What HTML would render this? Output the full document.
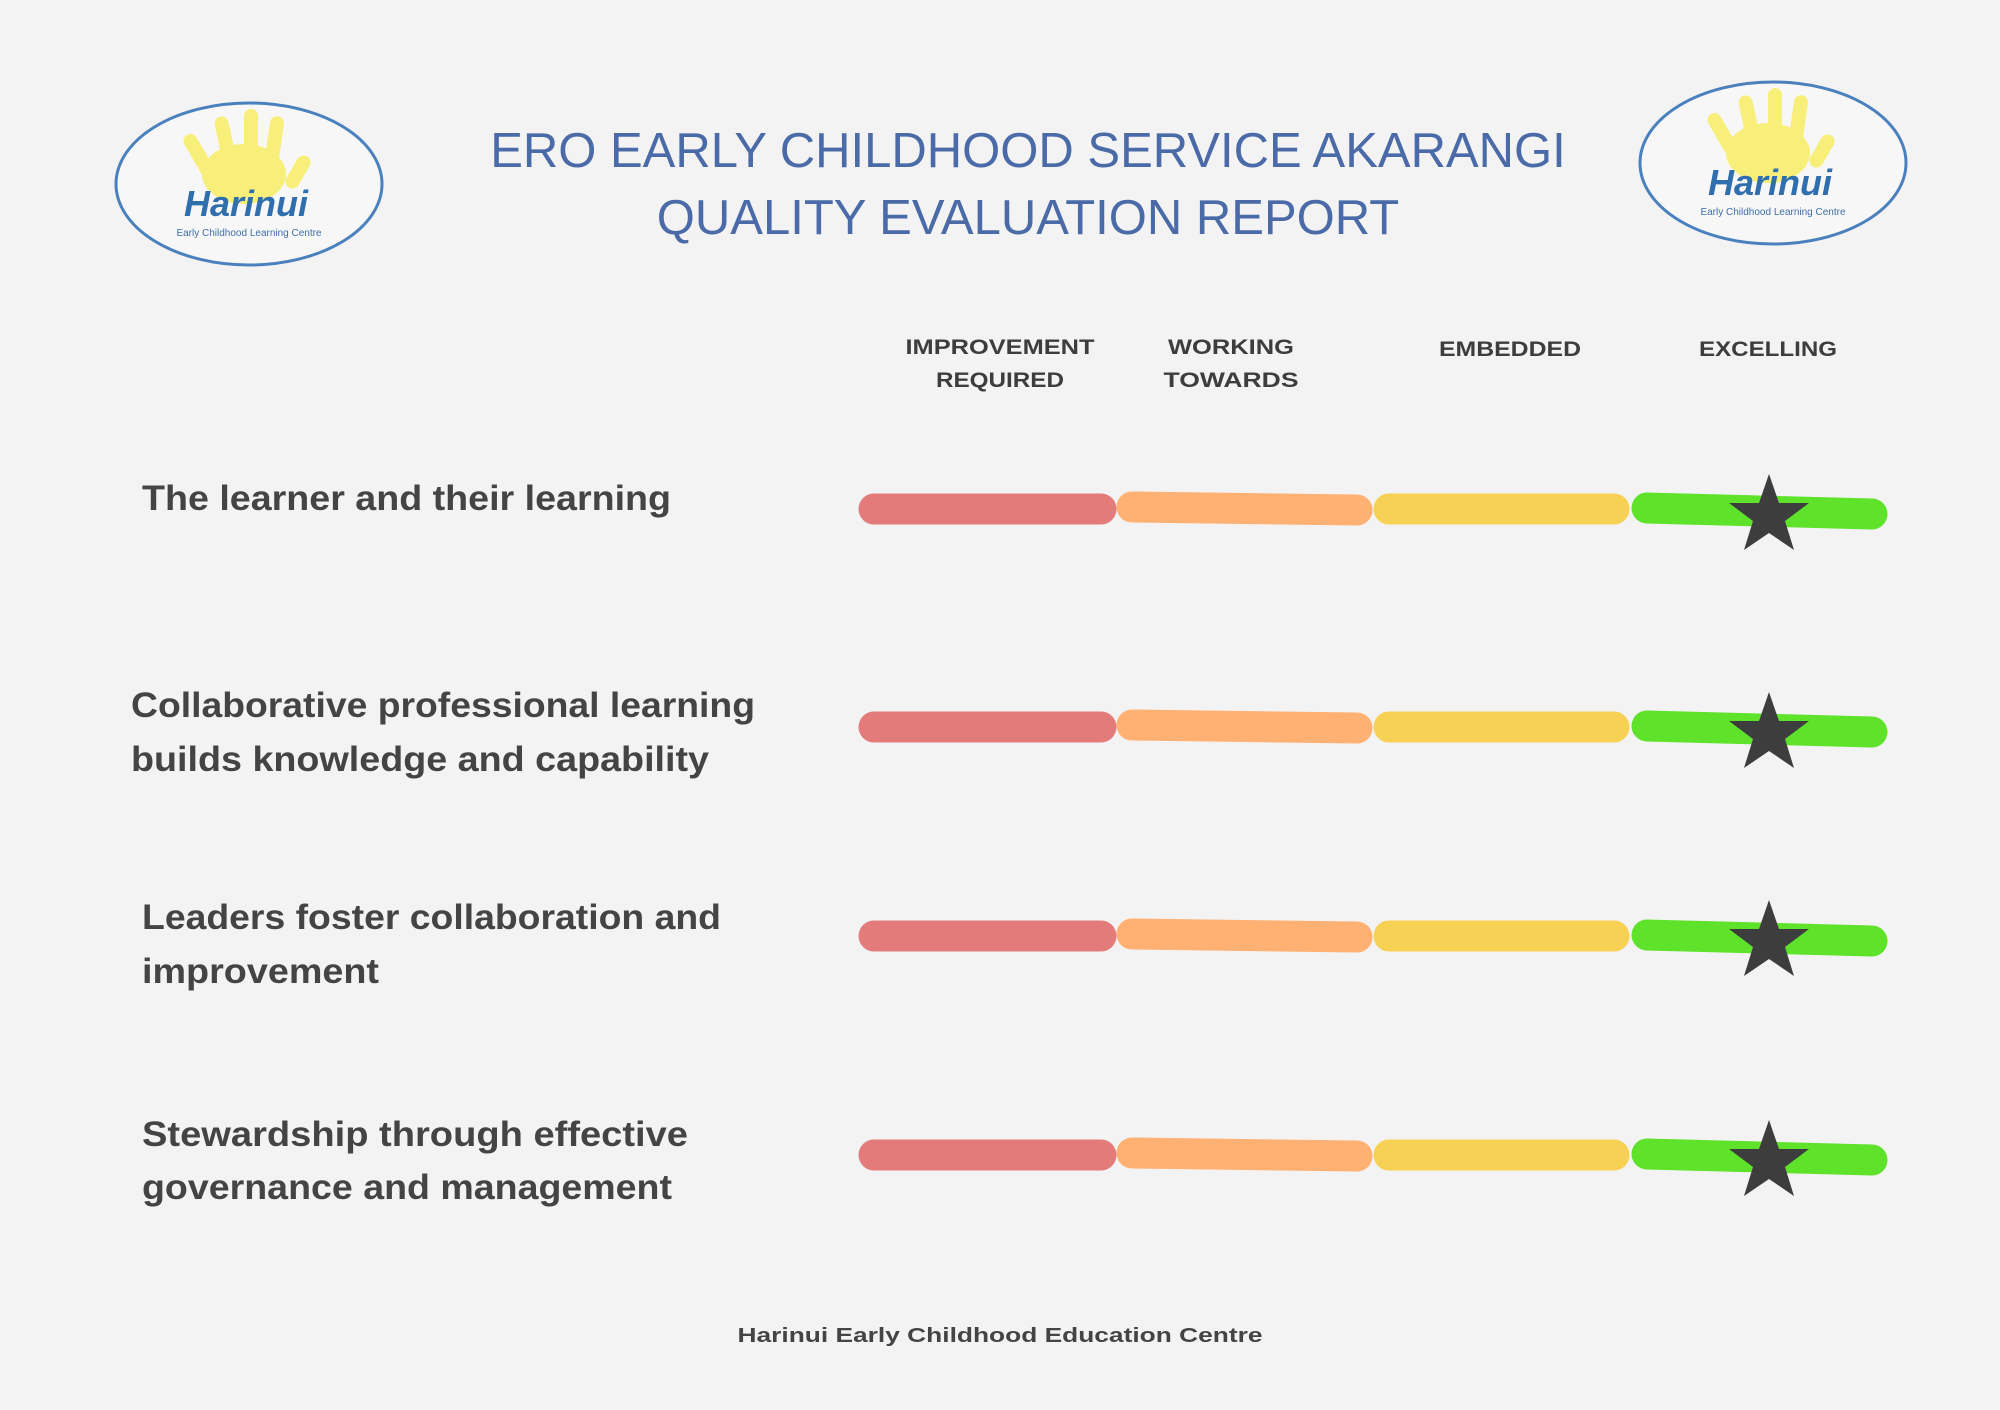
<!DOCTYPE html>
<html><head><meta charset="utf-8"><style>
html,body{margin:0;padding:0;background:#f3f3f3;}
svg{display:block;}
text{font-family:"Liberation Sans","DejaVu Sans",sans-serif;}
</style></head><body>
<svg width="2000" height="1410" viewBox="0 0 2000 1410" xmlns="http://www.w3.org/2000/svg">
<rect width="2000" height="1410" fill="#f3f3f3"/>
<defs>
<g id="logo">
  <ellipse cx="0" cy="0" rx="133" ry="81" fill="#f7f7f7" stroke="#4a80bd" stroke-width="3"/>
  <g fill="#f8ef7a">
    <ellipse cx="-5" cy="-10" rx="42" ry="30"/>
    <rect x="-58" y="-52" width="14" height="46" rx="7" transform="rotate(-30 -51 -30)"/>
    <rect x="-30" y="-68" width="14" height="55" rx="7" transform="rotate(-12 -23 -40)"/>
    <rect x="-5" y="-75" width="14" height="60" rx="7"/>
    <rect x="18" y="-68" width="14" height="55" rx="7" transform="rotate(8 25 -40)"/>
    <rect x="42" y="-30" width="14" height="36" rx="7" transform="rotate(30 49 -12)"/>
  </g>
  <text x="-3" y="32" text-anchor="middle" font-size="36" font-weight="bold" font-style="italic" fill="#2f6fae">Harinui</text>
  <text x="0" y="52" text-anchor="middle" font-size="10" fill="#3f6fa8">Early Childhood Learning Centre</text>
</g>
<polygon id="star" points="0,-42 10,-13 40,-13 16,5 25,34 0,17 -25,34 -16,5 -40,-13 -10,-13" fill="#3d3d3d"/>
<g id="bars" stroke-linecap="round" stroke-width="31" fill="none">
  <line x1="874" y1="0" x2="1101" y2="0" stroke="#e47b7b"/>
  <line x1="1132" y1="-2" x2="1357" y2="1" stroke="#ffb073"/>
  <line x1="1389" y1="0" x2="1614" y2="0" stroke="#f7d154"/>
  <line x1="1647" y1="-1" x2="1872" y2="5" stroke="#5ee22a"/>
</g>
</defs>
<use href="#logo" x="249" y="184"/>
<use href="#logo" x="1773" y="163"/>
<text x="1028" y="167" text-anchor="middle" font-size="49" fill="#4a6aa8">ERO EARLY CHILDHOOD SERVICE AKARANGI</text>
<text x="1028" y="234" text-anchor="middle" font-size="49" fill="#4a6aa8">QUALITY EVALUATION REPORT</text>
<g font-size="21" font-weight="bold" fill="#3d3d3d" text-anchor="middle" lengthAdjust="spacingAndGlyphs">
<text x="1000" y="354" textLength="189" lengthAdjust="spacingAndGlyphs">IMPROVEMENT</text><text x="1000" y="387" textLength="128" lengthAdjust="spacingAndGlyphs">REQUIRED</text>
<text x="1231" y="354" textLength="126" lengthAdjust="spacingAndGlyphs">WORKING</text><text x="1231" y="387" textLength="135" lengthAdjust="spacingAndGlyphs">TOWARDS</text>
<text x="1510" y="356" textLength="142" lengthAdjust="spacingAndGlyphs">EMBEDDED</text>
<text x="1768" y="356" textLength="138" lengthAdjust="spacingAndGlyphs">EXCELLING</text>
</g>
<g font-size="35" font-weight="bold" fill="#444">
<text x="142" y="510" textLength="529" lengthAdjust="spacingAndGlyphs">The learner and their learning</text>
<text x="131" y="717" textLength="624" lengthAdjust="spacingAndGlyphs">Collaborative professional learning</text>
<text x="131" y="771" textLength="578" lengthAdjust="spacingAndGlyphs">builds knowledge and capability</text>
<text x="142" y="929" textLength="579" lengthAdjust="spacingAndGlyphs">Leaders foster collaboration and</text>
<text x="142" y="983" textLength="237" lengthAdjust="spacingAndGlyphs">improvement</text>
<text x="142" y="1146" textLength="546" lengthAdjust="spacingAndGlyphs">Stewardship through effective</text>
<text x="142" y="1199" textLength="530" lengthAdjust="spacingAndGlyphs">governance and management</text>
</g>
<use href="#bars" x="0" y="509"/>
<use href="#bars" x="0" y="727"/>
<use href="#bars" x="0" y="936"/>
<use href="#bars" x="0" y="1155"/>
<use href="#star" x="1769" y="516"/>
<use href="#star" x="1769" y="734"/>
<use href="#star" x="1769" y="942"/>
<use href="#star" x="1769" y="1162"/>
<text x="1000" y="1342" text-anchor="middle" font-size="20" font-weight="bold" fill="#444" textLength="525" lengthAdjust="spacingAndGlyphs">Harinui Early Childhood Education Centre</text>
</svg>
</body></html>
